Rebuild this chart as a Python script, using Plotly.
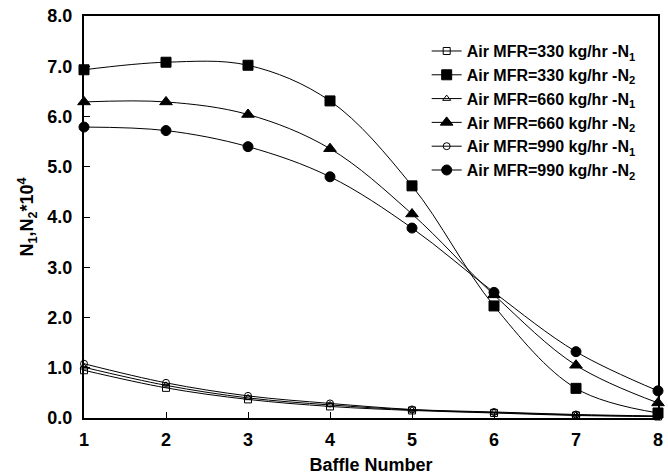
import plotly.graph_objects as go

baffle = [1, 2, 3, 4, 5, 6, 7, 8]
n1_330 = [0.95, 0.60, 0.37, 0.23, 0.15, 0.10, 0.05, 0.03]
n2_330 = [6.93, 7.08, 7.02, 6.31, 4.62, 2.23, 0.59, 0.10]
n1_660 = [1.01, 0.65, 0.40, 0.26, 0.16, 0.11, 0.06, 0.03]
n2_660 = [6.29, 6.29, 6.04, 5.36, 4.06, 2.45, 1.05, 0.30]
n1_990 = [1.08, 0.70, 0.44, 0.29, 0.17, 0.12, 0.07, 0.04]
n2_990 = [5.79, 5.72, 5.40, 4.80, 3.78, 2.50, 1.32, 0.54]
y_ticks = [0, 1, 2, 3, 4, 5, 6, 7, 8]
y_tick_labels = ["0.0", "1.0", "2.0", "3.0", "4.0", "5.0", "6.0", "7.0", "8.0"]
x_tick_labels = ["1", "2", "3", "4", "5", "6", "7", "8"]

series = [
    ("Air MFR=330 kg/hr -N<sub>1</sub>", n1_330, "square-open", 7),
    ("Air MFR=330 kg/hr -N<sub>2</sub>", n2_330, "square", 10),
    ("Air MFR=660 kg/hr -N<sub>1</sub>", n1_660, "triangle-up-open", 7),
    ("Air MFR=660 kg/hr -N<sub>2</sub>", n2_660, "triangle-up", 11),
    ("Air MFR=990 kg/hr -N<sub>1</sub>", n1_990, "circle-open", 7),
    ("Air MFR=990 kg/hr -N<sub>2</sub>", n2_990, "circle", 10),
]

fig = go.Figure()
for name, ys, sym, sz in series:
    fig.add_trace(go.Scatter(
        x=baffle, y=ys, name="<b>" + name + "</b>", mode="lines+markers",
        line=dict(color="black", width=1, shape="spline", smoothing=1),
        marker=dict(symbol=sym, size=sz, color="black",
                    line=dict(color="black", width=1)),
        cliponaxis=False,
    ))

font_fam = "Liberation Sans, Arial, sans-serif"
fig.update_layout(
    width=668, height=476,
    margin=dict(l=84, r=10, t=16, b=58),
    plot_bgcolor="white", paper_bgcolor="white",
    font=dict(family=font_fam, color="black", size=16),
    showlegend=True,
    legend=dict(x=0.597, y=0.955, xanchor="left", yanchor="top",
                bgcolor="rgba(0,0,0,0)", borderwidth=0,
                font=dict(family=font_fam, size=16, color="black"),
                tracegroupgap=0, itemwidth=30),
    xaxis=dict(range=[1, 8], tickvals=baffle, automargin=False,
               ticktext=["<b>" + t + "</b>" for t in x_tick_labels],
               ticks="inside", ticklen=6, ticklabelstandoff=4,
               tickwidth=1, tickcolor="black", showline=True, linecolor="black",
               linewidth=2, mirror=True, showgrid=False, zeroline=False,
               tickfont=dict(size=18),
               title=dict(text="<b>Baffle Number</b>", font=dict(size=18), standoff=10)),
    yaxis=dict(range=[0, 8], tickvals=y_ticks, automargin=False,
               ticktext=["<b>" + t + "</b>" for t in y_tick_labels],
               ticks="inside", ticklen=6, tickwidth=1, tickcolor="black",
               ticklabelstandoff=6,
               showline=True, linecolor="black", linewidth=2, mirror=True,
               showgrid=False, zeroline=False, tickfont=dict(size=18),
               title=dict(text="<b>N<sub>1</sub>,N<sub>2</sub>*10<sup>4</sup></b>",
                          font=dict(size=18), standoff=9)),
)

fig.write_html("out.html")
